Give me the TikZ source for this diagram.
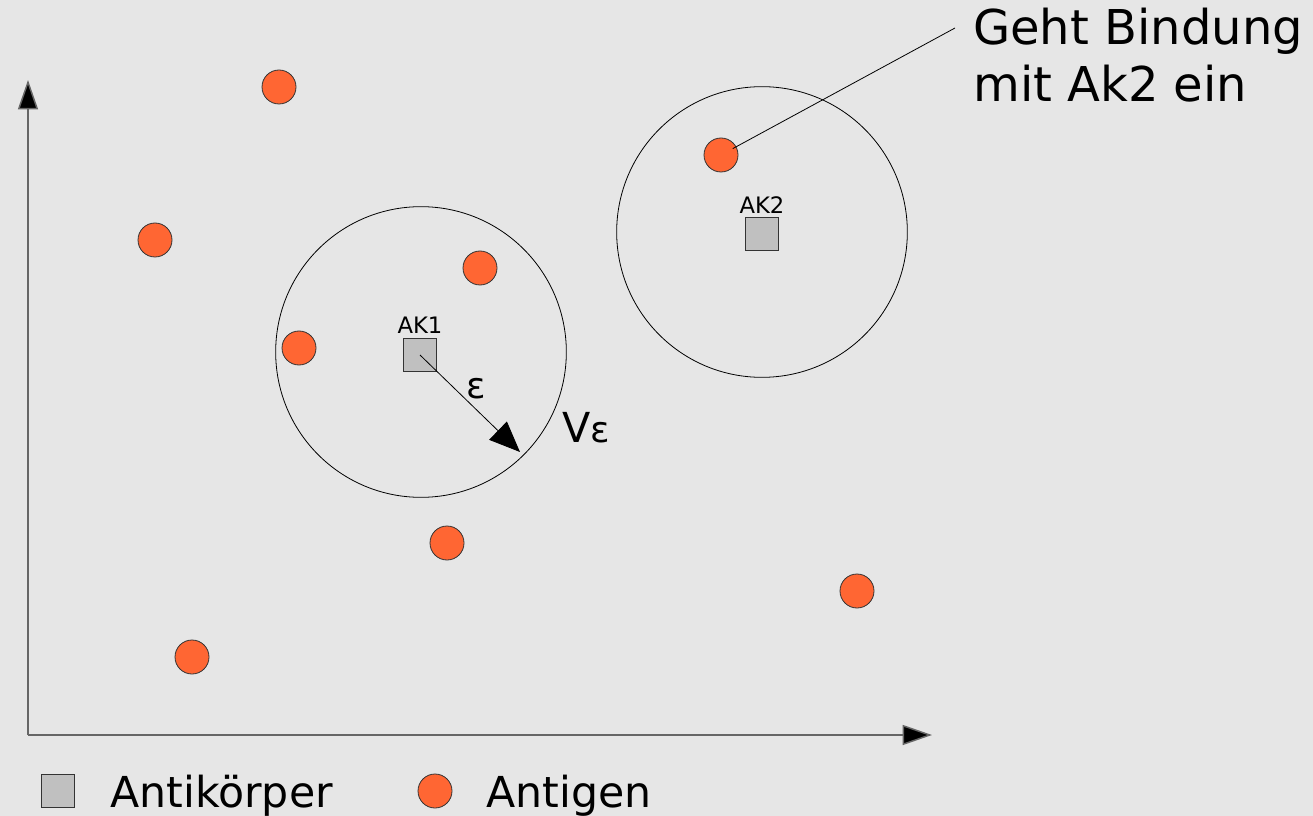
\documentclass[tikz,border=0pt]{standalone}
\usepackage{fontspec}
\setmainfont{DejaVu Sans}
\usetikzlibrary{arrows.meta,shapes.geometric}
\definecolor{bg}{HTML}{E6E6E6}
\definecolor{agfill}{HTML}{FF6633}
\definecolor{akfill}{HTML}{C0C0C0}
\begin{document}
\begin{tikzpicture}[x=0.75pt,y=-0.75pt,
  antigen/.style={circle,draw=black!80,line width=0.6pt,fill=agfill,minimum size=25.5pt,inner sep=0pt},
  antibody/.style={rectangle,draw=black!80,line width=0.6pt,fill=akfill,minimum size=25pt,inner sep=0pt},
  axis/.style={draw=black!60,line width=1.1pt,-{Triangle[length=22pt,width=15pt,fill=black]}},
  bindrange/.style={draw=black,line width=0.6pt,circle,minimum size=218pt,inner sep=0pt},
  aklabel/.style={font=\fontsize{17}{20}\selectfont,inner sep=0pt},
  bigtext/.style={font=\fontsize{32}{36}\selectfont,inner sep=0pt}]
\fill[bg] (0,0) rectangle (1313,816);
\useasboundingbox (0,0) rectangle (1313,816);
% axes
\coordinate (o) at (28,735);
\coordinate (ytip) at (28,80);
\coordinate (xtip) at (932,735);
\draw[axis] (o) -- (ytip);
\draw[axis] (o) -- (xtip);
% ranges
\node[bindrange] (v1) at (421,352) {};
\node[bindrange] (v2) at (762,232) {};
% leader line
\coordinate (lead) at (955,28);
% antigens
\node[antigen] (ag1) at (279,87) {};
\node[antigen] (ag2) at (155,240) {};
\node[antigen] (ag3) at (480,268) {};
\node[antigen] (ag4) at (299,348) {};
\node[antigen] (ag5) at (721,155) {};
\node[antigen] (ag6) at (447,543) {};
\node[antigen] (ag7) at (857,591) {};
\node[antigen] (ag8) at (192,657) {};
\draw[line width=0.6pt,shorten <=10pt] (ag5.center) -- (lead);
% antibodies
\node[antibody] (ak1) at (420,355) {};
\node[antibody] (ak2) at (762,234) {};
\node[aklabel,anchor=base] (ak1l) at (420,334) {AK1};
\node[aklabel,anchor=base] (ak2l) at (762,214) {AK2};
% epsilon arrow
\coordinate (eend) at (520,452);
\draw[line width=0.6pt,-{Triangle[length=23pt,width=19pt]}] (ak1.center) -- (eend);
\node[font=\fontsize{27}{30}\selectfont,inner sep=0pt,anchor=base] (eps) at (476,398) {ε};
\node[inner sep=0pt,anchor=base west] (veps) at (562,442) {{\fontsize{31}{36}\selectfont V}{\fontsize{27}{30}\selectfont ε}};
% annotation
\node[font=\fontsize{36}{42.75}\selectfont,inner sep=0pt,anchor=base west,align=left] (note) at (973,102) {Geht Bindung\\mit Ak2 ein};
% legend
\node[antibody] (lak) at (58,791) {};
\node[bigtext,anchor=base west] (lakt) at (110,807) {Antikörper};
\node[antigen] (lag) at (435,791) {};
\node[bigtext,anchor=base west] (lagt) at (486,807) {Antigen};
\end{tikzpicture}
\end{document}
